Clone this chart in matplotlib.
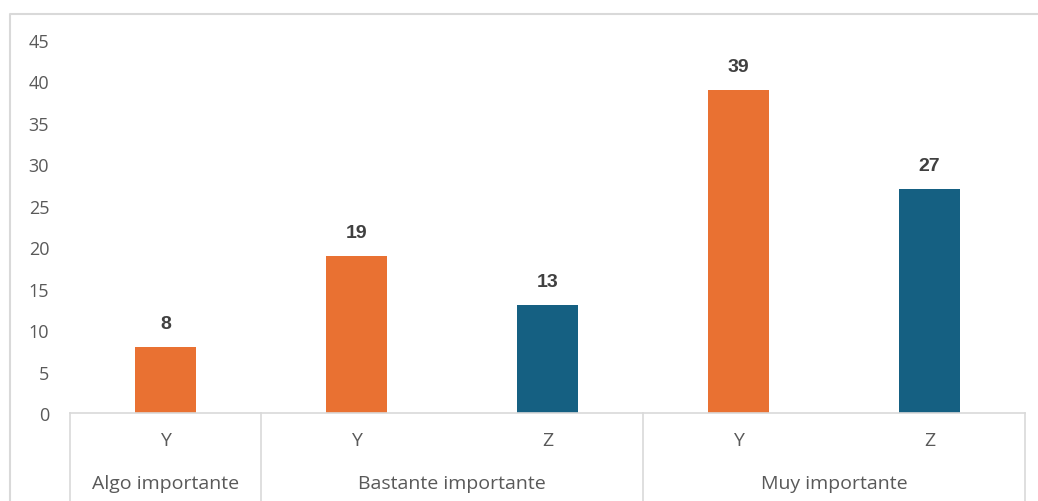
import matplotlib.pyplot as plt
from matplotlib.lines import Line2D

# data
groups = ["Algo importante", "Bastante importante", "Muy importante"]
group_sizes = [1, 2, 2]
sub_labels = ["Y", "Y", "Z", "Y", "Z"]
values = [8, 19, 13, 39, 27]

orange = "#E97132"
blue = "#156082"
bar_colors = [orange if s == "Y" else blue for s in sub_labels]
text_col = "#595959"
line_col = "#D9D9D9"

W, H = 1038, 502
fig = plt.figure(figsize=(W / 100, H / 100), dpi=100)

# plot area in pixels: x 70..1025, y(0)=414, y(45)=41
x0, x1 = 70, 1025
y_base, y_top = 414, 41
ax = fig.add_axes([x0 / W, (H - y_base) / H, (x1 - x0) / W, (y_base - y_top) / H])

n = len(values)
xs = list(range(n))
ax.bar(xs, values, width=0.32, color=bar_colors, zorder=2)
ax.set_xlim(-0.5, n - 0.5)
ax.set_ylim(0, 45)

for x, v in zip(xs, values):
    ax.annotate(str(v), (x, v), xytext=(0, 19), textcoords="offset pixels",
                ha="center", va="baseline", fontsize=14, fontweight="bold",
                color="#404040", family="Liberation Sans")

for s in ["top", "right", "left"]:
    ax.spines[s].set_visible(False)
ax.spines["bottom"].set_color(line_col)
ax.spines["bottom"].set_linewidth(1.2)
ax.set_xticks([])
ax.set_yticks(range(0, 50, 5))
ax.tick_params(axis="y", length=0, pad=15, labelsize=13, labelcolor=text_col)
for lab in ax.get_yticklabels():
    lab.set_family("Open Sans")

# sub category row
for x, s in zip(xs, sub_labels):
    fig.text((x0 + (x + 0.5) * (x1 - x0) / n) / W, (H - 441) / H, s,
             ha="center", va="center", fontsize=14, color=text_col, family="Open Sans")

# group row and dividers
slot = (x1 - x0) / n
edges = [0]
for g in group_sizes:
    edges.append(edges[-1] + g)
for i, g in enumerate(groups):
    cx = x0 + (edges[i] + edges[i + 1]) / 2 * slot
    fig.text(cx / W, (H - 484) / H, g, ha="center", va="center",
             fontsize=14, color=text_col, family="Open Sans")
for e in edges:
    px = x0 + e * slot
    fig.add_artist(Line2D([px / W, px / W], [0, (H - y_base) / H],
                          color=line_col, lw=1.2))

# chart border (left and top visible)
fig.add_artist(Line2D([9.5 / W, 9.5 / W, 1.0], [0, (H - 15) / H, (H - 15) / H],
                      color=line_col, lw=1.5))

fig.savefig("out.png", dpi=100)
